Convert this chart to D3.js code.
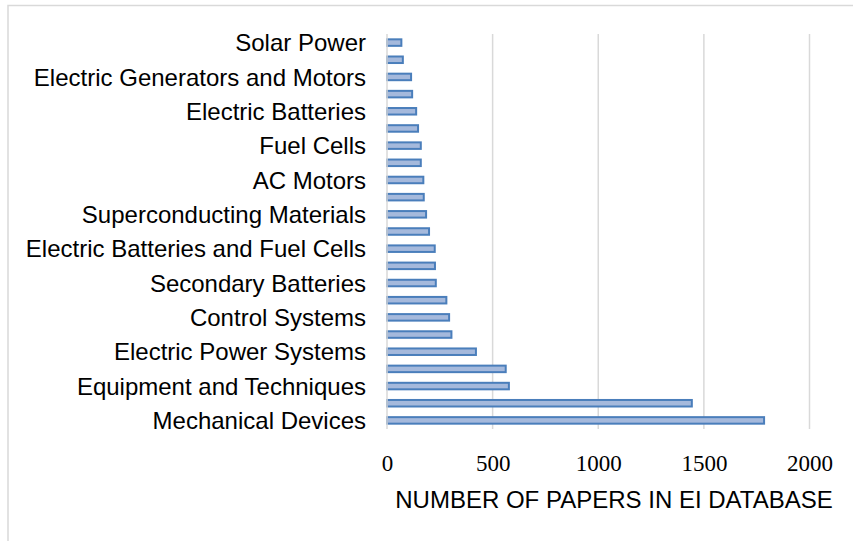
<!DOCTYPE html>
<html>
<head>
<meta charset="utf-8">
<script src="https://cdn.jsdelivr.net/npm/d3@7"></script>
<style>
  html, body { margin: 0; padding: 0; background: #fff; }
  svg { display: block; }
</style>
</head>
<body>
<svg id="chart" width="853" height="541"></svg>
<script>
// Subject categories, bottom to top; only every other name is printed on the axis
const categories = [
  "Mechanical Devices", null, "Equipment and Techniques", null,
  "Electric Power Systems", null, "Control Systems", null,
  "Secondary Batteries", null, "Electric Batteries and Fuel Cells", null,
  "Superconducting Materials", null, "AC Motors", null,
  "Fuel Cells", null, "Electric Batteries", null,
  "Electric Generators and Motors", null, "Solar Power"
];
// Paper counts, same order as categories
const papers = [
  1785, 1443, 577, 562, 421, 305, 294, 281, 231, 227, 226,
  199, 185, 174, 172, 160, 160, 147, 138, 119, 114, 75, 68
];
const xTicks = [0, 500, 1000, 1500, 2000];
const xTitle = "NUMBER OF PAPERS IN EI DATABASE";

const svg = d3.select("#chart");

// outer frame
svg.append("path")
  .attr("d", "M8,541 V5.5 H853")
  .attr("fill", "none")
  .attr("stroke", "#d9d9d9")
  .attr("stroke-width", 1.5);

const plotL = 387, plotR = 809.5, plotT = 34, plotB = 429;

const x = d3.scaleLinear().domain([0, 2000]).range([plotL, plotR]);
const idx = d3.range(categories.length);
const y = d3.scaleBand().domain(idx.slice().reverse()).range([plotT, plotB]).paddingInner(0.62).paddingOuter(0.31);

// vertical gridlines
svg.append("g").selectAll("line")
  .data(xTicks.slice(1))
  .join("line")
  .attr("x1", d => x(d)).attr("x2", d => x(d))
  .attr("y1", plotT).attr("y2", plotB)
  .attr("stroke", "#d9d9d9").attr("stroke-width", 1.5);

// bars
svg.append("g").selectAll("rect")
  .data(idx)
  .join("rect")
  .attr("x", x(0))
  .attr("y", i => y(i))
  .attr("width", i => x(papers[i]) - x(0))
  .attr("height", y.bandwidth())
  .attr("fill", "#a5b9dc")
  .attr("stroke", "#4a7ebb")
  .attr("stroke-width", 2);

// category axis line
svg.append("line")
  .attr("x1", plotL).attr("x2", plotL)
  .attr("y1", plotT).attr("y2", plotB)
  .attr("stroke", "#d9d9d9").attr("stroke-width", 1.5);

// category labels
const yAxis = d3.axisLeft(y).tickSize(0).tickPadding(21)
  .tickFormat(i => categories[i] || "");
const gy = svg.append("g").attr("transform", `translate(${plotL},0)`).call(yAxis);
gy.select(".domain").remove();
gy.selectAll("text")
  .attr("dy", "0.36em")
  .attr("font-family", "'Liberation Sans', Arial, sans-serif")
  .attr("font-size", 24)
  .attr("fill", "#000");

// value axis labels
const xAxis = d3.axisBottom(x).tickValues(xTicks).tickSize(0).tickPadding(0).tickFormat(d3.format("d"));
const gx = svg.append("g").attr("transform", `translate(0,${plotB})`).call(xAxis);
gx.select(".domain").remove();
gx.selectAll("text")
  .attr("y", 42)
  .attr("dy", 0)
  .attr("font-family", "'Liberation Serif', 'Times New Roman', serif")
  .attr("font-size", 23)
  .attr("fill", "#000");

svg.append("text")
  .attr("x", 614).attr("y", 508)
  .attr("text-anchor", "middle")
  .attr("font-family", "'Liberation Sans', Arial, sans-serif")
  .attr("font-size", 24)
  .attr("fill", "#000")
  .text(xTitle);
</script>
</body>
</html>
